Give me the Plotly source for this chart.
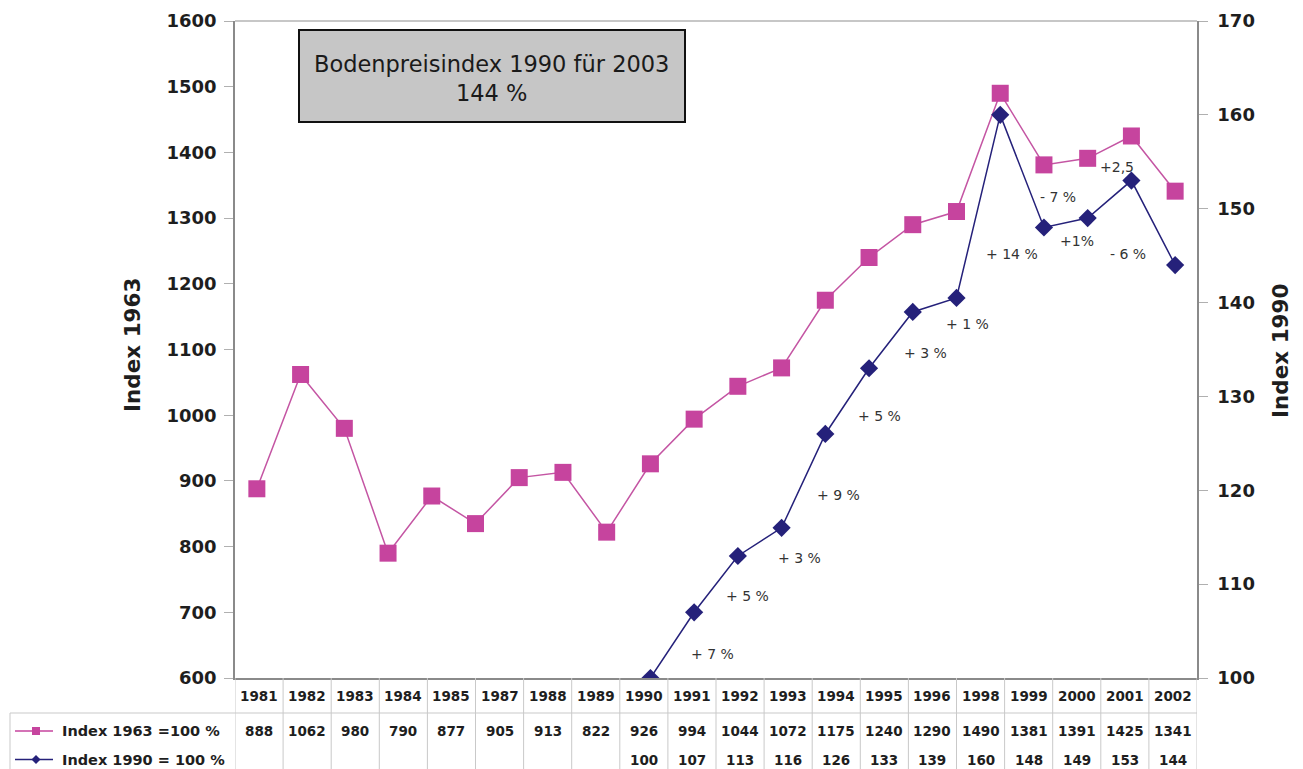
import plotly.graph_objects as go

# ---- data -------------------------------------------------------------
plot_years = ["1981", "1982", "1983", "1984", "1985", "1986", "1987", "1988",
              "1989", "1990", "1991", "1992", "1993", "1994", "1995", "1996",
              "1997", "1998", "1999", "2000", "2001", "2002"]
index_1963 = [888, 1062, 980, 790, 877, 835, 905, 913, 822, 926, 994, 1044,
              1072, 1175, 1240, 1290, 1310, 1490, 1381, 1391, 1425, 1341]
index_1990 = [None, None, None, None, None, None, None, None, None,
              100, 107, 113, 116, 126, 133, 139, 140.5, 160, 148, 149, 153, 144]

table_years = ["1981", "1982", "1983", "1984", "1985", "1987", "1988", "1989",
               "1990", "1991", "1992", "1993", "1994", "1995", "1996", "1998",
               "1999", "2000", "2001", "2002"]
table_1963 = [888, 1062, 980, 790, 877, 905, 913, 822, 926, 994, 1044, 1072,
              1175, 1240, 1290, 1490, 1381, 1391, 1425, 1341]
table_1990 = [None, None, None, None, None, None, None, None,
              100, 107, 113, 116, 126, 133, 139, 160, 148, 149, 153, 144]

# change labels along the 1990 series: (text, category position, index value)
change_labels = [
    ("+ 7 %", 10.43, 102.6), ("+ 5 %", 11.21, 108.7), ("+ 3 %", 12.42, 112.8),
    ("+ 9 %", 13.29, 119.5), ("+ 5 %", 14.23, 127.9), ("+ 3 %", 15.28, 134.6),
    ("+ 1 %", 16.26, 137.7), ("+ 14 %", 17.27, 145.2), ("- 7 %", 18.32, 151.2),
    ("+1%", 18.75, 146.6), ("+2,5", 19.67, 154.4), ("- 6 %", 19.92, 145.2),
]

series_names = ["Index 1963 =100 %", "Index 1990 = 100 %"]
box_title = "Bodenpreisindex 1990 für 2003<br>144 %"

# ---- geometry helpers (pixel -> paper) --------------------------------
W, H = 1303, 769
def px(x):
    return x / W
def py(y):
    return 1 - y / H

PLOT_L, PLOT_R, PLOT_T, PLOT_B = 235, 1197, 21, 678

PINK = "#c6449e"
PINK_LINE = "#c455a3"
NAVY = "#25217a"
GRID = "#c9c9c9"
AXIS = "#8a8a8a"
TXT = "#1e1e1e"

fig = go.Figure()

fig.add_trace(go.Scatter(
    x=plot_years, y=index_1963, name=series_names[0], mode="lines+markers",
    line=dict(color=PINK_LINE, width=1.5),
    marker=dict(symbol="square", size=17, color=PINK),
    xaxis="x", yaxis="y", showlegend=False,
))
fig.add_trace(go.Scatter(
    x=plot_years, y=index_1990, name=series_names[1], mode="lines+markers",
    line=dict(color=NAVY, width=1.5),
    marker=dict(symbol="diamond", size=14, color=NAVY),
    xaxis="x", yaxis="y2", showlegend=False, connectgaps=False,
))
# invisible anchor trace that registers the table's columns on x2
fig.add_trace(go.Scatter(
    x=table_years, y=[0.5] * len(table_years), mode="markers",
    marker=dict(opacity=0), xaxis="x2", yaxis="y3",
    showlegend=False, hoverinfo="skip",
))

annotations = []
shapes = []

# percent change labels
for text, xi, yv in change_labels:
    annotations.append(dict(
        x=xi, y=yv, xref="x", yref="y2", text=text, showarrow=False,
        xanchor="center", yanchor="middle",
        font=dict(family="DejaVu Sans", size=14, color="#333333"),
    ))

# ---- data table under the chart ---------------------------------------
ROW1_Y, ROW2_Y, ROW3_Y = 695.5, 731, 759.5
cell_font = dict(family="DejaVu Sans", size=13.5, color=TXT, weight="bold")
def cell(col, row_y, text):
    return dict(x=col, y=py(row_y), xref="x2", yref="paper", text=text,
                showarrow=False, xanchor="center", yanchor="middle",
                font=cell_font)

for i, yr in enumerate(table_years):
    annotations.append(cell(i, ROW1_Y, yr))
    annotations.append(cell(i, ROW2_Y, str(table_1963[i])))
    if table_1990[i] is not None:
        annotations.append(cell(i, ROW3_Y, str(table_1990[i])))

# column separators
for i in range(len(table_years) + 1):
    shapes.append(dict(type="line", xref="x2", yref="paper",
                       x0=i - 0.5, x1=i - 0.5, y0=py(PLOT_B), y1=py(H + 2),
                       line=dict(color=GRID, width=1)))
# row separator and legend column frame
shapes.append(dict(type="line", xref="paper", yref="paper",
                   x0=px(10), x1=px(PLOT_R), y0=py(713), y1=py(713),
                   line=dict(color=GRID, width=1)))
shapes.append(dict(type="line", xref="paper", yref="paper",
                   x0=px(10), x1=px(10), y0=py(713), y1=py(H + 2),
                   line=dict(color=GRID, width=1)))

# legend keys inside the table
legend_font = dict(family="DejaVu Sans", size=14.5, color=TXT, weight="bold")
for row_y, name, color, sym in [(ROW2_Y, series_names[0], PINK, "square"),
                                (ROW3_Y, series_names[1], NAVY, "diamond")]:
    shapes.append(dict(type="line", xref="paper", yref="paper",
                       x0=px(15), x1=px(53), y0=py(row_y), y1=py(row_y),
                       line=dict(color=color, width=1.5)))
    if sym == "square":
        shapes.append(dict(type="rect", xref="paper", yref="paper",
                           x0=px(32), x1=px(40), y0=py(row_y + 4), y1=py(row_y - 4),
                           fillcolor=color, line=dict(width=0)))
    else:
        cx, cy, r = 36, row_y, 4.5
        path = (f"M {px(cx)} {py(cy - r)} L {px(cx + r)} {py(cy)} "
                f"L {px(cx)} {py(cy + r)} L {px(cx - r)} {py(cy)} Z")
        shapes.append(dict(type="path", xref="paper", yref="paper", path=path,
                           fillcolor=color, line=dict(width=0)))
    annotations.append(dict(x=px(60), y=py(row_y), xref="paper", yref="paper",
                            xanchor="left", yanchor="middle", text=name,
                            showarrow=False, font=legend_font))

# ---- plot frame and title box -----------------------------------------
shapes.append(dict(type="line", xref="paper", yref="paper",
                   x0=px(PLOT_L), x1=px(PLOT_R), y0=py(PLOT_T), y1=py(PLOT_T),
                   line=dict(color="#b5b5b5", width=1.5)))
shapes.append(dict(type="rect", xref="paper", yref="paper",
                   x0=px(299), x1=px(685), y0=py(122), y1=py(30),
                   fillcolor="#c6c6c6", line=dict(color="#111111", width=2)))
annotations.append(dict(x=px(492), y=py(78), xref="paper", yref="paper",
                        xanchor="center", yanchor="middle",
                        text=box_title, showarrow=False, align="center",
                        font=dict(family="DejaVu Sans", size=22.5, color="#1a1a1a")))

# axis titles
title_font = dict(family="DejaVu Sans", size=21.5, color=TXT, weight="bold")
annotations.append(dict(x=px(132), y=py(345), xref="paper", yref="paper",
                        xanchor="center", yanchor="middle",
                        text="Index 1963", textangle=-90, showarrow=False,
                        font=title_font))
annotations.append(dict(x=px(1280), y=py(351), xref="paper", yref="paper",
                        xanchor="center", yanchor="middle",
                        text="Index 1990", textangle=-90, showarrow=False,
                        font=title_font))

tick_font = dict(family="DejaVu Sans", size=18, color=TXT, weight="bold")

fig.update_layout(
    width=W, height=H,
    margin=dict(l=0, r=0, t=0, b=0),
    paper_bgcolor="white", plot_bgcolor="white",
    template="none",
    showlegend=False,
    xaxis=dict(
        domain=[px(PLOT_L), px(PLOT_R)], anchor="y", type="category",
        categoryorder="array", categoryarray=plot_years,
        range=[-0.5, len(plot_years) - 0.5],
        showticklabels=False, ticks="", showgrid=False, zeroline=False,
        showline=True, linecolor=AXIS, linewidth=1.5, automargin=False,
    ),
    yaxis=dict(
        domain=[py(PLOT_B), py(PLOT_T)], anchor="x", range=[600, 1600],
        dtick=100, tick0=600, showgrid=False, zeroline=False,
        showline=True, linecolor=AXIS, linewidth=1.5,
        ticks="outside", ticklen=9, tickcolor="#b0b0b0", tickwidth=1,
        ticklabelstandoff=4, tickfont=tick_font, automargin=False,
    ),
    yaxis2=dict(
        overlaying="y", side="right", anchor="x", range=[100, 170],
        dtick=10, tick0=100, showgrid=False, zeroline=False,
        showline=True, linecolor=AXIS, linewidth=1.5,
        ticks="outside", ticklen=9, tickcolor="#b0b0b0", tickwidth=1,
        ticklabelstandoff=6, tickfont=tick_font, automargin=False,
    ),
    xaxis2=dict(
        domain=[px(PLOT_L), px(PLOT_R)], anchor="y3", type="category",
        categoryorder="array", categoryarray=table_years,
        range=[-0.5, len(table_years) - 0.5], visible=False,
    ),
    yaxis3=dict(domain=[0, py(PLOT_B)], anchor="x2", range=[0, 1], visible=False),
    annotations=annotations,
    shapes=shapes,
)

fig.write_html("out.html")
